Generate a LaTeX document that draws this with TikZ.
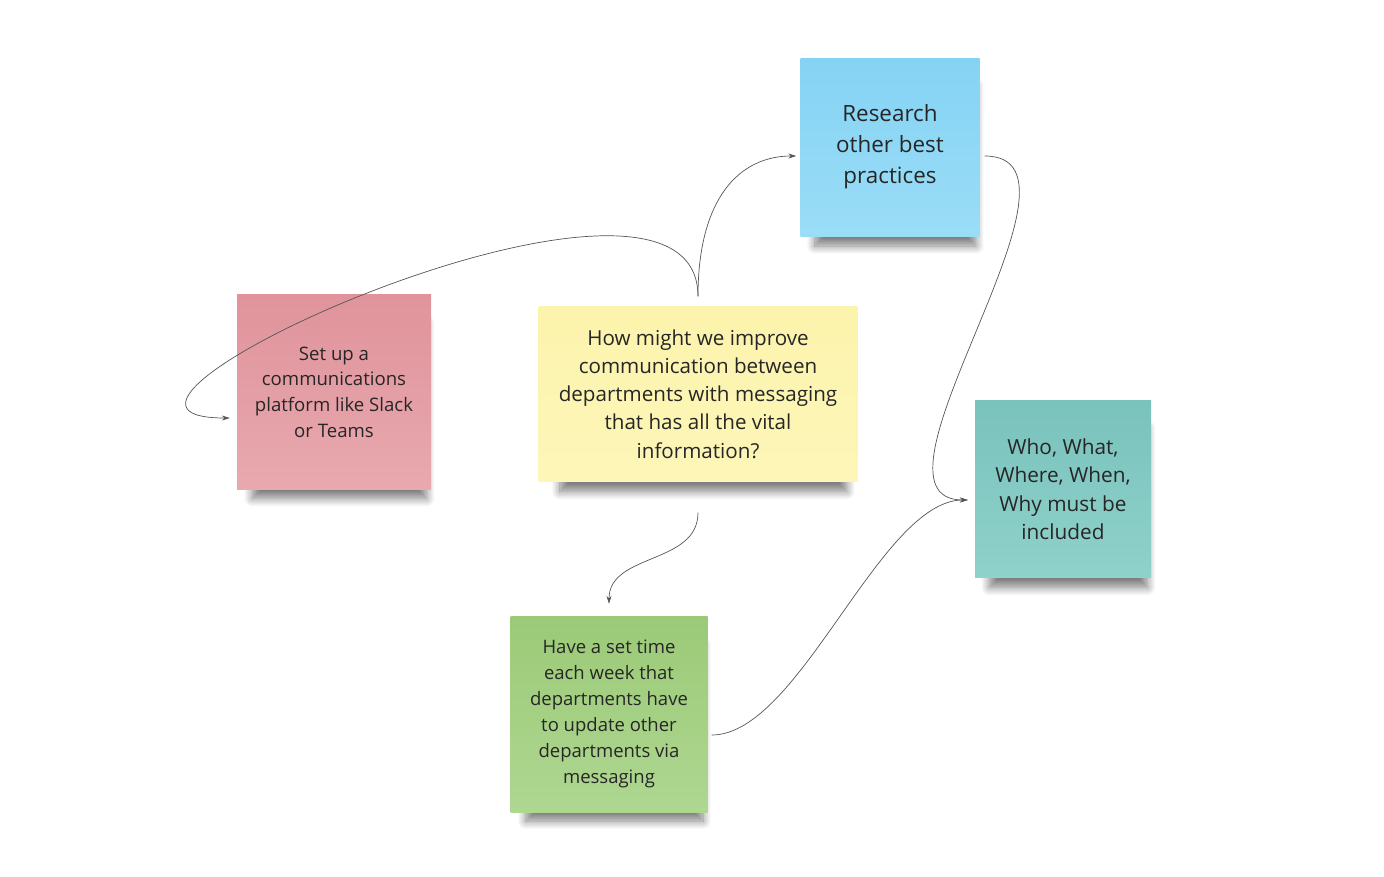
\documentclass[tikz,border=0pt]{standalone}
\usepackage{fontspec}
\setmainfont{Open Sans}
\usetikzlibrary{arrows.meta,shadows.blur}
\definecolor{pinktop}{HTML}{E0939B}
\definecolor{pinkbot}{HTML}{E8A9AF}
\definecolor{yellowtop}{HTML}{FCF3AC}
\definecolor{yellowbot}{HTML}{FDF6B8}
\definecolor{bluetop}{HTML}{85D3F4}
\definecolor{bluebot}{HTML}{9ADDF7}
\definecolor{tealtop}{HTML}{7AC2BC}
\definecolor{tealbot}{HTML}{8FD1CB}
\definecolor{greentop}{HTML}{9BCA77}
\definecolor{greenbot}{HTML}{AED791}
\definecolor{inkgray}{HTML}{262626}
\definecolor{linkgray}{HTML}{555555}

\begin{document}
\begin{tikzpicture}[x=1pt, y=-1pt,
		note/.style={rectangle, inner sep=0pt, align=center, text=inkgray,
			blur shadow={shadow xshift=6pt, shadow yshift=-21pt, shadow scale=0.9, shadow opacity=50, shadow blur radius=9pt, shadow blur steps=12}},
		link/.style={draw=linkgray, line width=0.7pt, -{Stealth[length=8pt,width=5pt]}}]
		\useasboundingbox (0,0) rectangle (1384,876);

		\node (slack) [note, minimum width=194pt, minimum height=195pt, top color=pinktop, bottom color=pinkbot, font=\fontsize{18.6}{25.7}\selectfont] at (334,392) {Set up a\\communications\\platform like Slack\\or Teams};
		\node (idea) [note, minimum width=319pt, minimum height=175pt, top color=yellowtop, bottom color=yellowbot, font=\fontsize{20.6}{28.2}\selectfont] at (698,394) {How might we improve\\communication between\\departments with messaging\\that has all the vital\\information?};
		\node (research) [note, minimum width=179pt, minimum height=178pt, top color=bluetop, bottom color=bluebot, font=\fontsize{22.4}{31}\selectfont] at (890,147) {Research\\other best\\practices};
		\node (who) [note, minimum width=176pt, minimum height=177pt, top color=tealtop, bottom color=tealbot, font=\fontsize{20.8}{28.5}\selectfont] at (1063,489) {Who, What,\\Where, When,\\Why must be\\included};
		\node (plan) [note, minimum width=197pt, minimum height=196pt, top color=greentop, bottom color=greenbot, font=\fontsize{18.5}{26}\selectfont] at (609,714) {Have a set time\\each week that\\departments have\\to update other\\departments via\\messaging};

		\draw[link] ([yshift=10pt]idea.north) .. controls +(0,-98) and +(-57,0) .. ([xshift=-4pt,yshift=-9pt]research.west);
		\draw[link] ([yshift=10pt]idea.north) .. controls +(0,-188) and +(-212,0) .. ([xshift=-7pt,yshift=-26pt]slack.west);
		\draw[link] ([xshift=5pt,yshift=-9pt]research.east) .. controls +(125,0) and +(-120,0) .. ([xshift=-7pt,yshift=-11pt]who.west);
		\draw[link] ([xshift=4pt,yshift=-21pt]plan.east) .. controls +(88,0) and +(-88,0) .. ([xshift=-7pt,yshift=-11pt]who.west);
		\draw[link] ([yshift=-31pt]idea.south) .. controls +(0,52) and +(0,-51) .. ([yshift=12pt]plan.north);

	\end{tikzpicture}
\end{document}
